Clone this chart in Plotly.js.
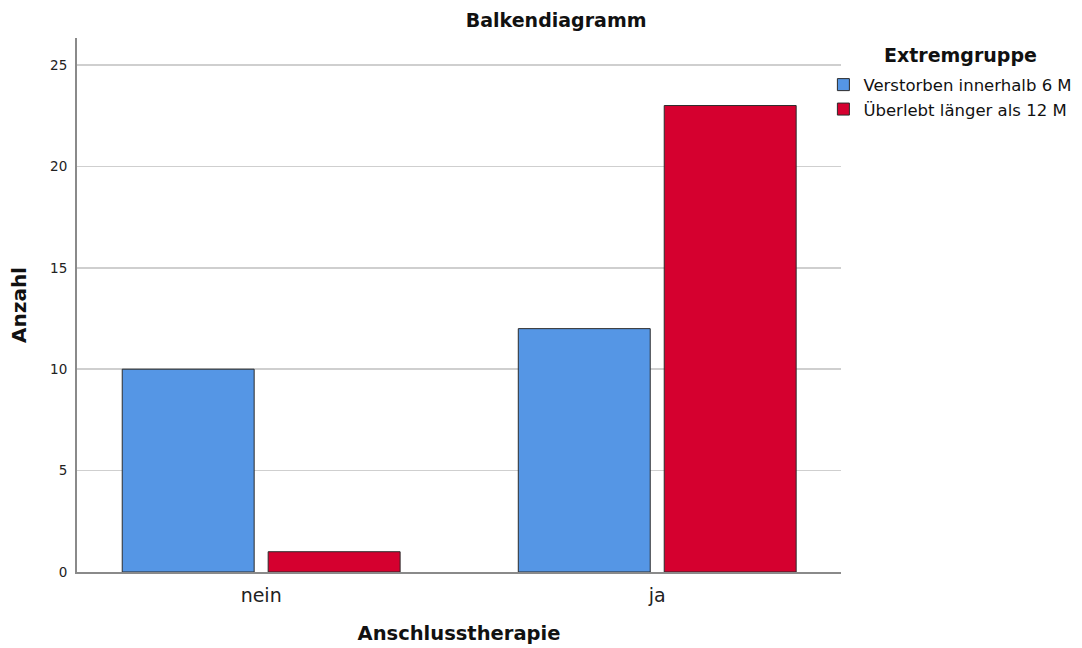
<!DOCTYPE html>
<html>
<head>
<meta charset="utf-8">
<script src="https://cdn.plot.ly/plotly-3.0.1.min.js"></script>
<style>html,body{margin:0;padding:0;background:#fff;}#chart{width:1082px;height:648px;}</style>
</head>
<body>
<div id="chart"></div>
<script>
const categories = ["nein", "ja"];
const seriesNames = ["Verstorben innerhalb 6 M", "Überlebt länger als 12 M"];
const verstorben = [10, 12];
const ueberlebt = [1, 23];
const yTicks = [0, 5, 10, 15, 20, 25];

const FONT = "DejaVu Sans, Lucida Grande, sans-serif";
const traces = [
  {type: "bar", name: seriesNames[0], x: categories, y: verstorben,
   marker: {color: "#5596E5", line: {color: "#2b2b2b", width: 1}}},
  {type: "bar", name: seriesNames[1], x: categories, y: ueberlebt,
   marker: {color: "#D5002F", line: {color: "#2b2b2b", width: 1}}}
];
const layout = {
  width: 1082, height: 648,
  margin: {l: 77, r: 241, t: 38, b: 76, autoexpand: false},
  paper_bgcolor: "#fff", plot_bgcolor: "#fff",
  font: {family: FONT, color: "#222"},
  barmode: "group", bargap: 0.263, bargroupgap: 0.096,
  title: {text: "<b>Balkendiagramm</b>", font: {size: 19, family: FONT, color: "#111"},
          x: 0.514, xref: "container", xanchor: "center", y: 0.968, yref: "container", yanchor: "middle"},
  xaxis: {type: "category", range: [-0.465, 1.464], showline: true, linecolor: "#8a8a8a", linewidth: 2,
          ticks: "", showgrid: false, zeroline: false, tickfont: {size: 19, color: "#222"}, ticklabelstandoff: 5,
          automargin: false,
          title: {text: "<b>Anschlusstherapie</b>", font: {size: 19.5, color: "#111"}, standoff: 22}},
  yaxis: {range: [0, 26.33], tickvals: yTicks, showline: true, linecolor: "#8a8a8a", linewidth: 2,
          ticks: "", showgrid: true, gridcolor: "#cfcfcf", gridwidth: 1.5, zeroline: false,
          tickfont: {size: 13.5, color: "#222"}, ticklabelstandoff: 5, automargin: false,
          title: {text: "<b>Anzahl</b>", font: {size: 20, color: "#111"}, standoff: 18}},
  legend: {xref: "container", yref: "container", x: 0.761, xanchor: "left", y: 0.896, yanchor: "top",
           font: {size: 16.5, color: "#111"}, tracegroupgap: 0, itemwidth: 20, bgcolor: "rgba(0,0,0,0)"},
  annotations: [
    {text: "<b>Extremgruppe</b>", xref: "paper", yref: "paper", x: (960 - 77) / 764, y: 1 + (38 - 55) / 534,
     xanchor: "center", yanchor: "middle", showarrow: false, font: {size: 19, color: "#111", family: FONT}}
  ],
  showlegend: true
};
Plotly.newPlot("chart", traces, layout, {displayModeBar: false, staticPlot: true});
</script>
</body>
</html>
